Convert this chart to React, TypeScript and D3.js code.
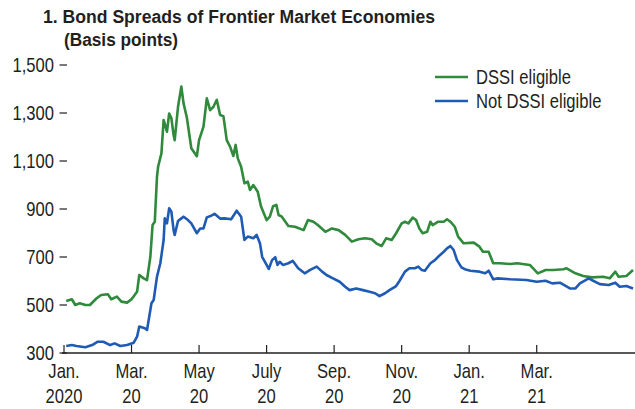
import React from "react";
import * as d3 from "d3";

const title = "1. Bond Spreads of Frontier Market Economies";
const subtitle = "(Basis points)";
const seriesNames = ["DSSI eligible", "Not DSSI eligible"];
const seriesColors = ["#2f8a3c", "#1f5bb4"];

const tickDates = ["2020-01-01", "2020-03-01", "2020-05-01", "2020-07-01", "2020-09-01", "2020-11-01", "2021-01-01", "2021-03-01"];
const tickMonths = ["Jan.", "Mar.", "May", "July", "Sep.", "Nov.", "Jan.", "Mar."];
const tickYears = ["2020", "20", "20", "20", "20", "20", "21", "21"];
const extraDomainDates = ["2021-05-01", "2021-07-01"];
const yTicks = [300, 500, 700, 900, 1100, 1300, 1500];

const dssiEligible: [string, number][] = [
  ["2020-01-03", 517], ["2020-01-08", 524], ["2020-01-11", 500], ["2020-01-15", 507], ["2020-01-20", 500],
  ["2020-01-24", 500], ["2020-01-30", 528], ["2020-02-03", 542], ["2020-02-09", 545], ["2020-02-12", 524],
  ["2020-02-17", 535], ["2020-02-21", 514], ["2020-02-26", 510], ["2020-03-01", 524], ["2020-03-06", 555],
  ["2020-03-08", 625], ["2020-03-12", 611], ["2020-03-15", 604], ["2020-03-18", 701], ["2020-03-20", 833],
  ["2020-03-22", 847], ["2020-03-24", 1035], ["2020-03-25", 1076], ["2020-03-28", 1132], ["2020-03-30", 1271],
  ["2020-04-02", 1222], ["2020-04-04", 1298], ["2020-04-06", 1278], ["2020-04-08", 1208], ["2020-04-09", 1187],
  ["2020-04-12", 1326], ["2020-04-15", 1410], ["2020-04-17", 1340], ["2020-04-20", 1280], ["2020-04-24", 1153],
  ["2020-04-29", 1120], ["2020-05-01", 1187], ["2020-05-03", 1215], ["2020-05-05", 1243], ["2020-05-08", 1361],
  ["2020-05-11", 1312], ["2020-05-14", 1326], ["2020-05-17", 1355], ["2020-05-20", 1292], ["2020-05-23", 1287],
  ["2020-05-26", 1187], ["2020-05-29", 1160], ["2020-06-01", 1121], ["2020-06-03", 1167], ["2020-06-05", 1111],
  ["2020-06-08", 1076], ["2020-06-11", 1007], ["2020-06-14", 1014], ["2020-06-16", 979], ["2020-06-19", 1000],
  ["2020-06-23", 972], ["2020-06-26", 910], ["2020-07-01", 854], ["2020-07-04", 868], ["2020-07-07", 912],
  ["2020-07-10", 917], ["2020-07-12", 875], ["2020-07-15", 868], ["2020-07-21", 829], ["2020-07-27", 826],
  ["2020-08-04", 812], ["2020-08-08", 854], ["2020-08-13", 847], ["2020-08-17", 833], ["2020-08-24", 805],
  ["2020-08-30", 819], ["2020-09-05", 812], ["2020-09-11", 792], ["2020-09-17", 764], ["2020-09-23", 774],
  ["2020-09-29", 778], ["2020-10-05", 774], ["2020-10-09", 757], ["2020-10-14", 746], ["2020-10-18", 778],
  ["2020-10-23", 771], ["2020-10-27", 799], ["2020-11-01", 840], ["2020-11-04", 847], ["2020-11-07", 840],
  ["2020-11-11", 864], ["2020-11-14", 854], ["2020-11-17", 819], ["2020-11-20", 799], ["2020-11-24", 805],
  ["2020-11-27", 847], ["2020-11-29", 833], ["2020-12-04", 847], ["2020-12-09", 847], ["2020-12-12", 857],
  ["2020-12-15", 847], ["2020-12-19", 826], ["2020-12-22", 785], ["2020-12-27", 757], ["2021-01-05", 760],
  ["2021-01-10", 743], ["2021-01-13", 722], ["2021-01-18", 722], ["2021-01-22", 674], ["2021-01-28", 674],
  ["2021-02-06", 671], ["2021-02-12", 674], ["2021-02-23", 667], ["2021-03-02", 632], ["2021-03-09", 646],
  ["2021-03-16", 646], ["2021-03-25", 649], ["2021-03-28", 653], ["2021-04-05", 632], ["2021-04-12", 621],
  ["2021-04-20", 615], ["2021-04-30", 618], ["2021-05-06", 611], ["2021-05-11", 639], ["2021-05-14", 618],
  ["2021-05-21", 621], ["2021-05-27", 646],
];

const notDssiEligible: [string, number][] = [
  ["2020-01-03", 329], ["2020-01-08", 333], ["2020-01-12", 329], ["2020-01-20", 324], ["2020-01-26", 333],
  ["2020-01-31", 347], ["2020-02-05", 347], ["2020-02-11", 333], ["2020-02-15", 340], ["2020-02-20", 329],
  ["2020-02-26", 333], ["2020-03-03", 343], ["2020-03-06", 368], ["2020-03-08", 410], ["2020-03-13", 403],
  ["2020-03-15", 396], ["2020-03-19", 507], ["2020-03-21", 521], ["2020-03-24", 618], ["2020-03-27", 674],
  ["2020-03-30", 771], ["2020-03-31", 861], ["2020-04-02", 840], ["2020-04-04", 903], ["2020-04-06", 889],
  ["2020-04-08", 812], ["2020-04-09", 792], ["2020-04-12", 850], ["2020-04-15", 861], ["2020-04-17", 868],
  ["2020-04-21", 854], ["2020-04-24", 840], ["2020-04-29", 799], ["2020-05-02", 819], ["2020-05-05", 819],
  ["2020-05-08", 865], ["2020-05-12", 872], ["2020-05-15", 880], ["2020-05-20", 860], ["2020-05-24", 861],
  ["2020-05-30", 857], ["2020-06-04", 893], ["2020-06-08", 868], ["2020-06-11", 771], ["2020-06-14", 785],
  ["2020-06-19", 778], ["2020-06-22", 792], ["2020-06-25", 757], ["2020-06-27", 701], ["2020-07-01", 667],
  ["2020-07-03", 650], ["2020-07-06", 687], ["2020-07-09", 699], ["2020-07-11", 667], ["2020-07-13", 680],
  ["2020-07-16", 667], ["2020-07-21", 674], ["2020-07-25", 684], ["2020-07-30", 653], ["2020-08-05", 632],
  ["2020-08-10", 646], ["2020-08-16", 660], ["2020-08-21", 639], ["2020-08-25", 625], ["2020-08-31", 611],
  ["2020-09-06", 597], ["2020-09-11", 576], ["2020-09-15", 562], ["2020-09-21", 569], ["2020-09-27", 562],
  ["2020-10-03", 555], ["2020-10-08", 549], ["2020-10-12", 537], ["2020-10-17", 549], ["2020-10-21", 562],
  ["2020-10-27", 579], ["2020-10-30", 600], ["2020-11-04", 639], ["2020-11-08", 653], ["2020-11-13", 653],
  ["2020-11-16", 660], ["2020-11-19", 646], ["2020-11-22", 643], ["2020-11-27", 674], ["2020-12-01", 687],
  ["2020-12-04", 701], ["2020-12-09", 722], ["2020-12-12", 736], ["2020-12-15", 746], ["2020-12-18", 729],
  ["2020-12-21", 687], ["2020-12-25", 657], ["2020-12-28", 649], ["2021-01-02", 643], ["2021-01-10", 639],
  ["2021-01-15", 632], ["2021-01-18", 643], ["2021-01-22", 607], ["2021-01-26", 611], ["2021-02-06", 607],
  ["2021-02-20", 604], ["2021-03-01", 597], ["2021-03-09", 601], ["2021-03-15", 590], ["2021-03-22", 593],
  ["2021-03-31", 569], ["2021-04-05", 569], ["2021-04-09", 590], ["2021-04-17", 611], ["2021-04-21", 601],
  ["2021-04-27", 587], ["2021-05-05", 583], ["2021-05-11", 593], ["2021-05-15", 576], ["2021-05-21", 579],
  ["2021-05-27", 569],
];

const W = 635;
const H = 409;
const FONT = "'Liberation Sans', Arial, sans-serif";
const TEXT = "#231f20";
const SX = 0.83;

function Txt(props: { x: number; y: number; anchor?: string; size?: number; dy?: string; children: React.ReactNode }) {
  const { x, y, anchor = "start", size = 20, dy = "0", children } = props;
  return (
    <text
      transform={`translate(${x},${y}) scale(${SX},1)`}
      textAnchor={anchor}
      dy={dy}
      fontSize={size}
      fill={TEXT}
    >
      {children}
    </text>
  );
}

export default function App() {
  const parse = d3.timeParse("%Y-%m-%d");
  const plotLeft = 64;
  const step = 67.53;
  const domainDates = [...tickDates, ...extraDomainDates].map((d) => parse(d) as Date);
  const x = d3
    .scaleTime()
    .domain(domainDates)
    .range(domainDates.map((_, i) => plotLeft + i * step));
  const y = d3.scaleLinear().domain([300, 1500]).range([353, 65]);
  const line = d3
    .line<[string, number]>()
    .x((d) => x(parse(d[0]) as Date))
    .y((d) => y(d[1]));
  const series = [dssiEligible, notDssiEligible];
  const fmt = d3.format(",");
  const axisY = y(300);

  return (
    <svg width={W} height={H} style={{ position: "absolute", left: 0, top: 0 }} fontFamily={FONT}>
      <rect width={W} height={H} fill="#fff" />
      <text x={43} y={23} fontSize={18} fontWeight="bold" fill={TEXT} textLength={392} lengthAdjust="spacingAndGlyphs">{title}</text>
      <text x={64} y={46} fontSize={18} fontWeight="bold" fill={TEXT} textLength={114} lengthAdjust="spacingAndGlyphs">{subtitle}</text>

      {yTicks.map((t) => (
        <g key={t}>
          <line x1={59.5} x2={67} y1={y(t)} y2={y(t)} stroke={TEXT} strokeWidth={1.2} />
          <Txt x={54} y={y(t)} dy="0.36em" anchor="end">{fmt(t)}</Txt>
        </g>
      ))}

      <line x1={62} x2={W} y1={axisY} y2={axisY} stroke={TEXT} strokeWidth={1.3} />
      {tickDates.map((d, i) => {
        const xp = x(parse(d) as Date);
        return (
          <g key={d}>
            <line x1={xp} x2={xp} y1={axisY} y2={axisY - 8} stroke={TEXT} strokeWidth={1.2} />
            <Txt x={xp} y={378} anchor="middle">{tickMonths[i]}</Txt>
            <Txt x={xp} y={403} anchor="middle">{tickYears[i]}</Txt>
          </g>
        );
      })}

      {series.map((s, i) => (
        <path key={i} d={line(s) || ""} fill="none" stroke={seriesColors[i]} strokeWidth={2.6} strokeLinejoin="round" />
      ))}

      {seriesNames.map((n, i) => (
        <g key={n}>
          <line x1={435} x2={468} y1={77 + i * 24} y2={77 + i * 24} stroke={seriesColors[i]} strokeWidth={2.6} />
          <Txt x={476} y={77 + i * 24} dy="0.36em">{n}</Txt>
        </g>
      ))}
    </svg>
  );
}
